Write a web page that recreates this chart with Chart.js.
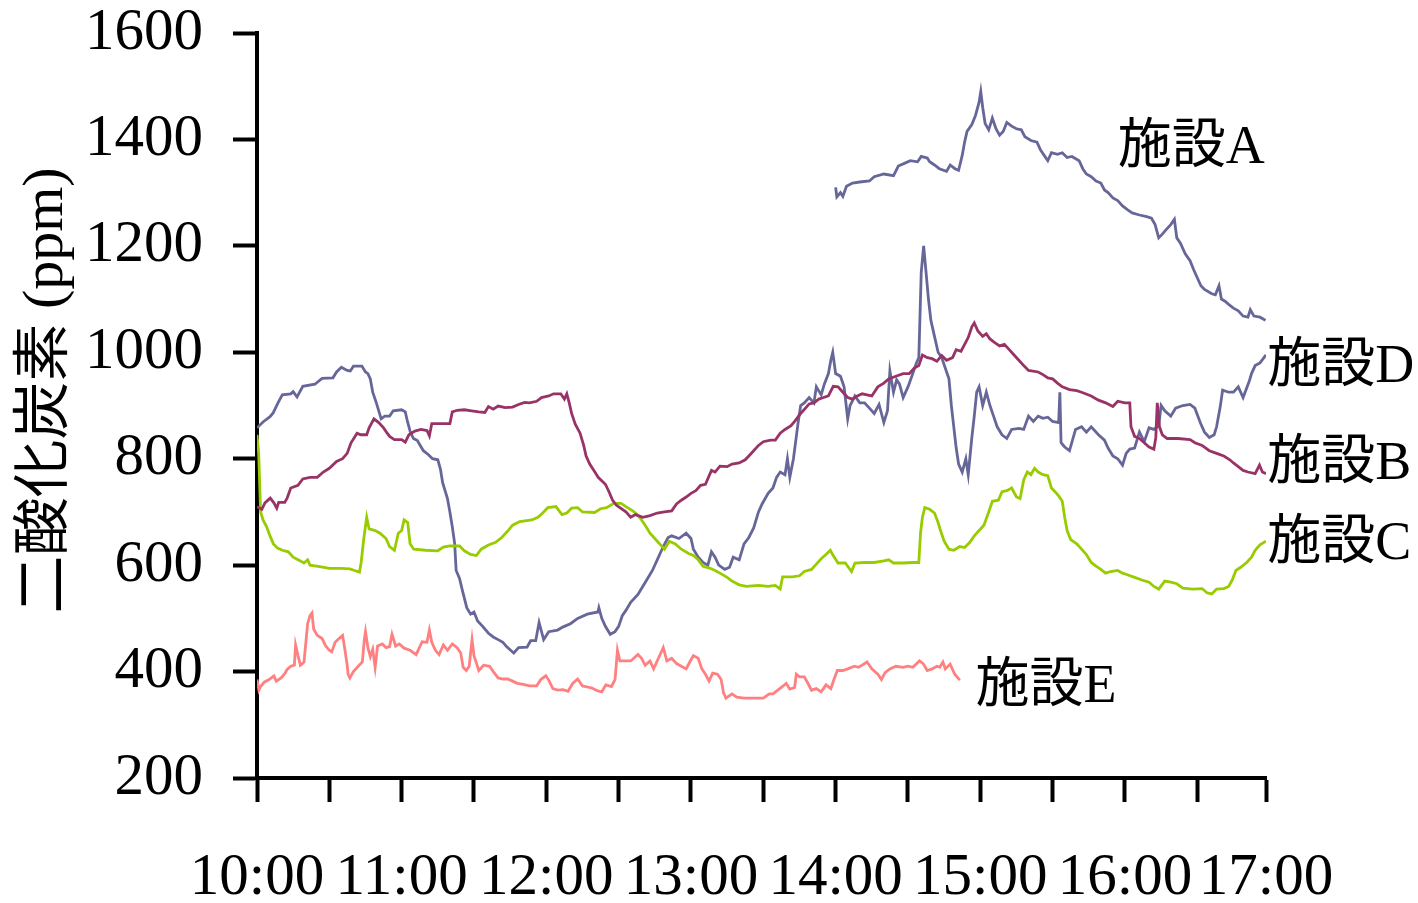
<!DOCTYPE html>
<html lang="ja">
<head>
<meta charset="utf-8">
<title>二酸化炭素濃度の推移</title>
<script src="https://cdn.jsdelivr.net/npm/chart.js@4/dist/chart.umd.min.js"></script>
<style>
  html, body { margin: 0; padding: 0; background: #ffffff; }
  canvas { display: block; }
</style>
</head>
<body>
<canvas id="co2" width="1418" height="903"></canvas>
<script>
// Readings are [minutes after 10:00, CO2 ppm]
const hourLabels = ['10:00', '11:00', '12:00', '13:00', '14:00', '15:00', '16:00', '17:00'];
const tickMinutes = [0, 30, 60, 90, 120, 150, 180, 210, 240, 270, 300, 330, 360, 390, 418.5];
const facilityNames = ['施設A', '施設B', '施設C', '施設D', '施設E'];

const facilityA = [[240,1310],[240.5,1292],[242,1300],[243,1293],[244.5,1312],[247,1318],[250,1320],[254,1322],[256,1330],[260,1335],[264,1332],[266,1350],[268.5,1355],[271,1360],[274,1358],[275.5,1368],[278,1365],[279,1358],[281,1352],[283,1345],[286,1340],[287.5,1352],[289.5,1345],[291,1342],[292.5,1370],[293.5,1395],[294.5,1415],[296.5,1428],[298,1445],[299.5,1470],[300.2,1490],[301,1460],[302,1430],[303.5,1418],[305,1440],[306.5,1420],[308,1408],[309.5,1415],[311,1432],[313,1425],[315,1420],[317,1418],[318.5,1405],[321,1398],[323.5,1395],[325,1380],[326.5,1370],[328,1360],[329.5,1375],[332,1372],[334,1375],[336,1366],[338,1368],[341,1360],[342.5,1345],[344,1335],[346,1330],[348,1322],[350,1318],[351.5,1305],[353,1300],[355,1290],[357,1285],[359,1275],[361,1268],[363,1262],[366,1258],[369,1255],[371,1252],[372.5,1240],[374,1215],[375.5,1222],[377,1230],[379,1240],[380.5,1250],[381.5,1215],[383,1205],[385,1185],[387,1172],[388.5,1155],[390,1140],[391.5,1125],[393,1118],[396,1110],[397.5,1108],[399,1125],[400,1100],[401.5,1096],[403,1090],[405,1083],[407,1078],[409,1068],[411,1066],[412,1080],[413.5,1068],[416,1066],[418.3,1060]];

const facilityB = [[0,710],[2,705],[3.3,717],[5.5,726],[7,717],[8.2,707],[9,718],[11.5,718],[12.5,726],[14,745],[17,750],[19,762],[22,765],[25,765],[27.5,775],[30,782],[33,795],[35.5,800],[37.4,810],[39,830],[41.5,848],[43,845],[45.5,845],[46.5,858],[48.5,875],[50.5,868],[52.5,858],[54,848],[55,842],[57,836],[60,836],[61.5,831],[63,845],[65.5,852],[68,855],[70.5,853],[71.5,843],[72.5,866],[76,866],[80,866],[81,888],[83,891],[86,892],[89,890],[92,888],[94.5,887],[96,898],[98,893],[100,899],[103,896],[106,897],[108.5,902],[111,906],[113,905],[116,908],[118,915],[121,918],[123,922],[126,922],[127.5,912],[128.5,922],[129.5,905],[130.5,885],[132,865],[134,848],[135.5,825],[136.5,805],[138,790],[140,776],[141.5,765],[144.5,752],[146,738],[147.5,722],[149,713],[150.5,708],[153,700],[155,690],[157,695],[160,690],[163,693],[166,698],[169,700],[172,702],[174,715],[176,722],[178,728],[180,735],[182,740],[184,750],[186,752],[188.5,778],[190,775],[192,786],[195,785],[197,790],[200,792],[202.5,798],[204,805],[206,815],[208,825],[210,832],[213,835],[215,835],[217,848],[219,855],[221.5,862],[223,870],[225.5,885],[227.5,895],[229,903],[231,905],[233,912],[235,915],[237,918],[239,936],[241,935],[243,925],[245,915],[247,912],[249,918],[251,922],[253,920],[255,918],[257.5,935],[260,942],[262,950],[265,955],[268,960],[270.5,960],[272.5,970],[274.5,975],[276,995],[278,990],[280,988],[282,983],[284,994],[286,985],[288.5,990],[290,1005],[292,1002],[293.5,1015],[295,1028],[296.5,1048],[297.5,1055],[299,1040],[301,1030],[302.5,1035],[304,1025],[306,1018],[308,1012],[310,1015],[312,1005],[314,995],[316,985],[318,975],[320,966],[324,963],[326,958],[328,952],[330,950],[332,942],[334,935],[337,930],[340,928],[342,925],[346,918],[349,910],[352,905],[355,898],[357,908],[360,905],[362,905],[362.5,860],[364,842],[366,838],[368,830],[370,822],[372,818],[372.8,840],[373.4,905],[374.3,860],[375.5,845],[377.5,838],[382,838],[387,836],[389,830],[392,825],[395,815],[398,810],[401,805],[403.5,798],[405,792],[407,785],[409,778],[411,775],[414,772],[415.8,788],[417,775],[418.5,772]];

const facilityC = [[0,845],[0.7,810],[1.5,700],[2.5,685],[4,672],[5.4,655],[6.8,640],[8.5,632],[10.5,628],[13,625],[15,615],[18,608],[19.5,604],[21,610],[22,600],[26,597],[30,594],[35,594],[38.5,593],[40.5,590],[42.5,587],[43.2,605],[44.3,650],[45.5,690],[46.5,668],[49,665],[51,660],[53.5,650],[55,635],[57,628],[58.6,660],[60,665],[61,685],[62.5,680],[63.5,640],[65,630],[70,628],[75,627],[77.3,634],[80,636],[84,636],[86,627],[88.6,620],[91,618],[93,630],[96,638],[99,643],[101.5,652],[104,664],[106,675],[109,682],[114,685],[116.5,690],[118.5,698],[120.6,708],[124,710],[126.5,695],[128.5,698],[130.5,707],[133,708],[135,700],[140,699],[142.5,706],[145,708],[148,716],[151,716],[153,710],[155.5,703],[157,698],[159,688],[161,675],[163,660],[165,650],[167,640],[169,630],[171,645],[173.5,640],[176,630],[179,622],[181,618],[183,610],[185,598],[188,594],[190,590],[192,585],[195,577],[197,570],[200,563],[203,560],[208,562],[212,560],[215,562],[217,555],[218,578],[222,578],[225,580],[227,588],[230,592],[232,602],[234,612],[236,620],[237.8,628],[239,618],[241,604],[244,604],[246.6,588],[248,604],[252,605],[256,605],[260,608],[262,610],[264,604],[268,604],[272,605],[274.5,605],[275.2,660],[276,690],[277,708],[279,705],[281,698],[282.5,680],[283.5,665],[285,645],[287,630],[289,628],[291.5,635],[293.5,633],[295.5,642],[297.5,655],[299.5,665],[301.5,675],[303.5,700],[305,720],[307.5,722],[309,738],[311,740],[313,745],[315,728],[316.5,725],[318,760],[319.5,775],[321,770],[322.5,782],[324,775],[326,770],[328,768],[329.5,745],[331,738],[332.5,730],[334,720],[335,690],[336,665],[337.5,648],[340,640],[342,630],[344,620],[346,605],[348,598],[350,592],[352,585],[354,588],[357,590],[359,585],[361,582],[364,577],[367,572],[370,568],[372,560],[374,555],[376.5,570],[379,568],[381.5,565],[384,557],[388,555],[392,556],[394,548],[396,546],[398,555],[401,556],[403,560],[404.5,572],[406,590],[408,596],[410.5,605],[412.5,615],[414,628],[416,638],[418.5,645]];

const facilityD = [[0,858],[2.5,869],[5.4,879],[6.7,886],[8.7,905],[10.5,920],[14,922],[15,926],[16.6,916],[19,936],[24,940],[27,951],[31.5,952],[33,963],[35,972],[37.4,966],[38.7,965],[40,974],[43.5,974],[45,963],[46,960],[47,950],[48,925],[49.5,905],[50.5,890],[51.5,875],[53,880],[55,880],[56.5,890],[60,892],[61.5,888],[62.4,870],[63.6,850],[64.9,838],[66.5,834],[69,815],[71,808],[72.8,800],[75,798],[76.1,780],[77,755],[79,725],[80,700],[81,672],[82,640],[82.6,590],[84,575],[85,556],[86,538],[87,520],[88.6,508],[90,512],[91.5,495],[93.6,485],[96,472],[98,465],[100,460],[102,455],[103.5,447],[105.2,440],[106.5,435],[108.5,445],[112,446],[113.5,458],[115.6,458],[117,492],[118.9,460],[121,475],[124.7,478],[127,484],[130,490],[133,500],[137,508],[141.4,512],[141.8,520],[143,500],[144.5,485],[146.5,470],[148.5,475],[150,485],[151.5,505],[153,515],[155,530],[158,545],[160,560],[162,575],[164,590],[166,610],[168.5,635],[170.5,652],[172,655],[175,650],[178,660],[180,650],[181,630],[183,615],[185,605],[187,600],[188.5,625],[190,615],[191.5,600],[194,592],[196,596],[197.5,615],[200,610],[202,640],[204,652],[206,670],[208,700],[209.5,715],[212,735],[214,745],[215.5,765],[217,775],[219,770],[220,800],[221,765],[222.5,800],[223.5,835],[224.5,870],[225.5,900],[227,905],[229,915],[231,905],[232,935],[234,920],[235.3,940],[237,960],[238,985],[238.8,1000],[240,960],[242,955],[243.5,935],[245,875],[246,900],[248,918],[250,905],[252,905],[254,895],[256,885],[258,902],[260,868],[261.5,890],[262.5,965],[264,925],[265.3,948],[266.5,940],[268,915],[270,935],[272,960],[273.5,980],[274.5,990],[275.5,1150],[276.5,1200],[277.5,1150],[278.5,1100],[279.5,1060],[281,1030],[282.5,1000],[284,990],[285.5,970],[287,950],[288,900],[289,860],[290,820],[291,790],[292.5,775],[294,800],[295,770],[296.5,840],[297.5,880],[298.5,925],[299.5,935],[301,900],[302.5,925],[304,900],[305.5,880],[307,860],[309,845],[311,838],[313,855],[316,857],[318,855],[320,880],[322,870],[324,880],[326,876],[328,878],[330,870],[332.5,868],[333,925],[333.5,830],[335,822],[337,815],[339.5,855],[342,860],[344,850],[346,860],[349,845],[351.5,835],[353,820],[355,805],[357,800],[359,788],[360.5,810],[362,818],[364,820],[366,850],[368,832],[370,858],[372,855],[374,862],[375,900],[376.5,890],[379,880],[381,895],[384,900],[387,902],[389,895],[391.3,867],[393,850],[395,840],[397,845],[398,860],[399.5,897],[400.5,929],[403,925],[405,925],[407,935],[409,915],[411.5,945],[412.5,960],[414,975],[416,980],[418.5,995]];

const facilityE = [[0,385],[0.8,365],[1.5,372],[3,380],[5,385],[7,392],[8,382],[10,388],[11.5,396],[12.5,404],[14,410],[15.5,412],[16,450],[17,430],[18,412],[19.5,418],[21,490],[22,505],[22.8,510],[23.5,480],[25,468],[27,462],[28.5,448],[30,440],[31,437],[32.4,455],[34,462],[35.5,468],[36.5,440],[37.4,412],[37.8,395],[38.5,388],[40,400],[42,410],[43.7,418],[44.5,460],[45,475],[46,445],[47,428],[48,442],[49,408],[50,448],[52,452],[53.5,445],[55,447],[56,470],[57.5,448],[59,452],[61,444],[63.5,440],[66,432],[68.5,456],[70.5,455],[71.5,478],[72.5,455],[74,440],[75.5,432],[77.3,450],[79,440],[81,452],[83,445],[84.5,435],[85.5,408],[86.8,402],[88,410],[89.2,460],[90,430],[92,402],[94,412],[96.5,410],[98,400],[100,388],[102,386],[104,386],[106,382],[108,378],[110.5,376],[113,373],[116,373],[117.7,385],[119.8,392],[121,384],[122.7,368],[124.7,365],[127,366],[129,363],[131,378],[133,386],[135,373],[137,371],[139,369],[141,364],[143,362],[144.7,375],[147,372],[148.5,385],[149.5,440],[150.5,420],[152,420],[155,420],[158,432],[159.5,425],[161,412],[163,420],[164.5,405],[166.5,425],[168.5,445],[170,420],[172,425],[174,415],[176,410],[178,405],[179.5,418],[181,430],[183,425],[184.5,405],[186,395],[187.5,382],[189,397],[191,395],[192.5,385],[193.5,360],[194.5,350],[197,358],[199,352],[202,350],[206,350],[210,350],[212.5,358],[214,358],[216,365],[218,372],[219.5,378],[221,367],[223,370],[223.7,395],[225,390],[227,390],[228.5,378],[230,365],[232,368],[234,362],[236,375],[238,368],[239.3,385],[240.7,402],[243,402],[245,405],[247.8,410],[249.5,408],[251,412],[253,418],[255,405],[257.5,395],[259,385],[260.5,398],[262.5,405],[265,410],[268,408],[270,410],[272,408],[274.8,420],[276.3,415],[278,402],[280,405],[282,410],[283.2,408],[284.5,418],[285.5,405],[287.5,414],[289.4,395],[291.5,384]];

const toPoints = rows => rows.map(([minute, ppm]) => ({ x: minute, y: ppm }));

const SERIF = "'Liberation Serif', 'Noto Sans CJK JP', serif";
Chart.defaults.font.family = SERIF;
Chart.defaults.color = '#000000';

// Facility names written beside the end of each trace
const seriesLabels = {
  id: 'seriesLabels',
  afterDatasetsDraw(chart, args, opts) {
    const { ctx, scales: { x, y } } = chart;
    ctx.save();
    ctx.font = opts.font;
    ctx.fillStyle = opts.color;
    ctx.textAlign = 'left';
    ctx.textBaseline = 'middle';
    opts.items.forEach(item => {
      ctx.fillText(item.text, x.getPixelForValue(item.minute), y.getPixelForValue(item.ppm));
    });
    ctx.restore();
  }
};

// Rotated y-axis caption
const yCaption = {
  id: 'yCaption',
  afterDraw(chart, args, opts) {
    const { ctx, chartArea } = chart;
    ctx.save();
    ctx.translate(chartArea.left - opts.gap, (chartArea.top + chartArea.bottom) / 2 - opts.lift);
    ctx.rotate(-Math.PI / 2);
    ctx.font = opts.font;
    ctx.fillStyle = opts.color;
    ctx.textAlign = 'center';
    ctx.textBaseline = 'middle';
    ctx.fillText(opts.text, 0, 0);
    ctx.restore();
  }
};

const line = (name, rows, color) => ({
  label: name,
  data: toPoints(rows),
  borderColor: color,
  backgroundColor: color,
  borderWidth: 2.8,
  pointRadius: 0,
  pointHoverRadius: 0,
  tension: 0,
  fill: false
});

new Chart(document.getElementById('co2'), {
  type: 'line',
  data: {
    datasets: [
      line(facilityNames[0], facilityA, '#666699'),
      line(facilityNames[1], facilityB, '#993366'),
      line(facilityNames[2], facilityC, '#99cc00'),
      line(facilityNames[3], facilityD, '#666699'),
      line(facilityNames[4], facilityE, '#ff8080')
    ]
  },
  options: {
    responsive: false,
    animation: false,
    devicePixelRatio: 1,
    events: [],
    layout: { padding: { top: 33, right: 152, bottom: 0, left: 0 } },
    plugins: {
      legend: { display: false },
      tooltip: { enabled: false },
      seriesLabels: {
        font: "54px " + SERIF,
        color: '#000000',
        items: [
          { text: facilityNames[0], minute: 357, ppm: 1382 },
          { text: facilityNames[3], minute: 419, ppm: 970 },
          { text: facilityNames[1], minute: 419, ppm: 788 },
          { text: facilityNames[2], minute: 419, ppm: 638 },
          { text: facilityNames[4], minute: 298, ppm: 370 }
        ]
      },
      yCaption: {
        text: '二酸化炭素 (ppm)',
        font: "58px " + SERIF,
        color: '#000000',
        gap: 210,
        lift: 15
      }
    },
    scales: {
      x: {
        type: 'linear',
        min: 0,
        max: 418.5,
        afterBuildTicks(scale) {
          scale.ticks = tickMinutes.map(v => ({ value: v }));
        },
        afterFit(scale) {
          scale.height = 125;
          scale.paddingLeft = 0;
          scale.paddingRight = 0;
        },
        ticks: {
          autoSkip: false,
          maxRotation: 0,
          minRotation: 0,
          padding: 41,
          font: { size: 59 },
          color: '#000000',
          callback(value) {
            if (value === tickMinutes[tickMinutes.length - 1]) return hourLabels[hourLabels.length - 1];
            return value % 60 === 0 ? hourLabels[value / 60] : '';
          }
        },
        grid: {
          drawOnChartArea: false,
          drawTicks: true,
          tickLength: 24,
          tickWidth: 4,
          tickColor: '#000000'
        },
        border: { display: true, color: '#000000', width: 4 }
      },
      y: {
        min: 200,
        max: 1600,
        afterFit(scale) {
          scale.width = 257;
          scale.paddingTop = 0;
          scale.paddingBottom = 0;
        },
        ticks: {
          stepSize: 200,
          padding: 30,
          font: { size: 59 },
          color: '#000000',
          callback: value => String(value)
        },
        grid: {
          drawOnChartArea: false,
          drawTicks: true,
          tickLength: 24,
          tickWidth: 4,
          tickColor: '#000000'
        },
        border: { display: true, color: '#000000', width: 4 }
      }
    }
  },
  plugins: [seriesLabels, yCaption]
});
</script>
</body>
</html>
